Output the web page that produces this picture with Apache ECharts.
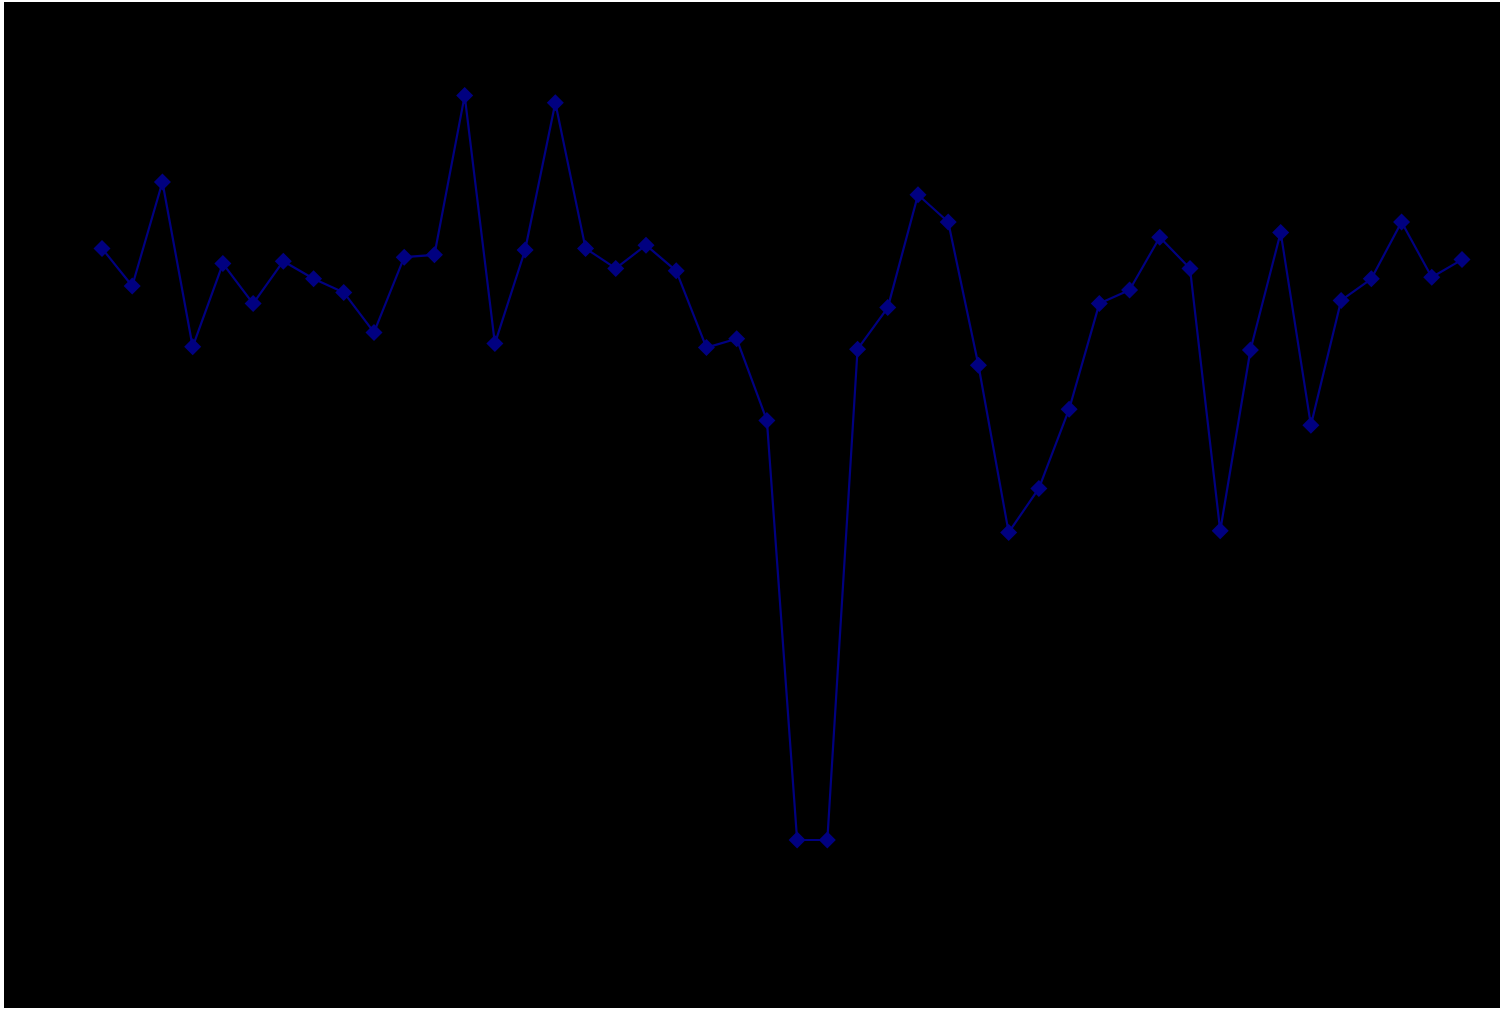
<!DOCTYPE html>
<html>
<head>
<meta charset="utf-8">
<script src="https://cdn.jsdelivr.net/npm/echarts@6/dist/echarts.min.js"></script>
<style>
  html, body { margin: 0; padding: 0; background: #ffffff; }
  #chart { position: absolute; left: 4px; top: 2px; width: 1496px; height: 1006px; background: #000000; }
</style>
</head>
<body>
<div id="chart"></div>
<script>
const categories = ["1","2","3","4","5","6","7","8","9","10","11","12","13","14","15","16","17","18","19","20","21","22","23","24","25","26","27","28","29","30","31","32","33","34","35","36","37","38","39","40","41","42","43","44","45","46"];
const values = [80.2, 75.5, 88.5, 67.9, 78.3, 73.3, 78.6, 76.4, 74.7, 69.7, 79.1, 79.4, 99.3, 68.3, 80.0, 98.4, 80.2, 77.7, 80.6, 77.4, 67.8, 68.9, 58.7, 6.25, 6.25, 67.6, 72.8, 86.9, 83.5, 65.6, 44.7, 50.2, 60.1, 73.3, 75.0, 81.6, 77.7, 44.9, 67.5, 82.2, 58.1, 73.7, 76.4, 83.5, 76.6, 78.8];
const yMin = 0, yMax = 100;

const chart = echarts.init(document.getElementById('chart'), null, { renderer: 'canvas' });
chart.setOption({
  backgroundColor: '#000000',
  animation: false,
  grid: { left: 98, top: 88, width: 1360, height: 800 },
  xAxis: {
    type: 'category',
    data: categories,
    boundaryGap: false,
    show: false
  },
  yAxis: {
    type: 'value',
    min: yMin,
    max: yMax,
    show: false
  },
  series: [{
    type: 'line',
    data: values,
    symbol: 'diamond',
    symbolSize: 17,
    lineStyle: { color: '#000080', width: 2.2 },
    itemStyle: { color: '#000080' }
  }]
});
</script>
</body>
</html>
